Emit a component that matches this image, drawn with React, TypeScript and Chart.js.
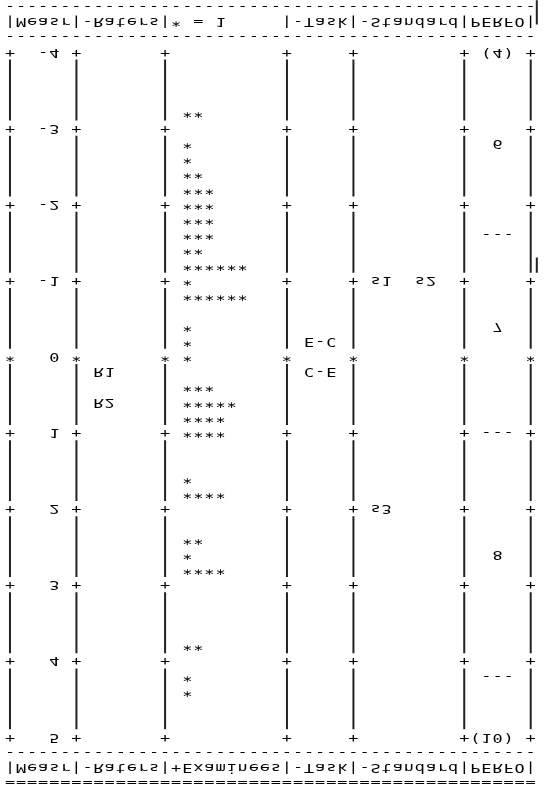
import React, { useEffect, useRef } from 'react';
import { Chart, registerables } from 'chart.js';

Chart.register(...registerables);

// ---- data (measure units, logits) ----
const measureTicks = [-4, -3, -2, -1, 0, 1, 2, 3, 4, 5];
const columnRules = [0, 6, 14, 25, 31, 41, 47]; // character columns of the "|" rules
const headerText = '|Measr|-Raters|+Examinees|-Task|-Standard|PERFO|';
const footerText = '|Measr|-Raters|* = 1     |-Task|-Standard|PERFO|';

const raterNames = ['R1', 'R2'];
const raterMeasures = [0.2, 0.6];

const examineeMeasures = [-3.2, -2.8, -2.6, -2.4, -2.2, -2.0, -1.8, -1.6, -1.4, -1.2, -1.0, -0.8, -0.4, -0.2, 0, 0.4, 0.6, 0.8, 1.0, 1.6, 1.8, 2.4, 2.6, 2.8, 3.8, 4.2, 4.4];
const examineeCounts = [2, 1, 1, 2, 3, 3, 3, 3, 2, 6, 1, 6, 1, 1, 1, 3, 5, 4, 4, 1, 4, 2, 1, 4, 2, 1, 1];

const taskNames = ['E-C', 'C-E'];
const taskMeasures = [-0.2, 0.2];

const standardLabels = ['s1  s2', 's3'];
const standardMeasures = [-1.0, 2.0];

const perfoLabels = ['(4)', '6', '---', '7', '---', '8', '---', '(10)'];
const perfoMeasures = [-4, -2.8, -1.6, -0.4, 1.0, 2.6, 4.2, 5];

const strayMarks = [
  { col: 47.55, from: -4.68, to: -4.36 },
  { col: 47.55, from: -1.3, to: -1.1 },
];

// layout in character cells / measure units
const COL_MIN = -0.9;
const COL_MAX = 48.38;
const Y_MIN = -4.683;
const Y_MAX = 5.684;
const LINE = 0.2; // one text line in measure units
const STRETCH = 1.3;

function buildRuleData(col: number) {
  const pts: any[] = [];
  for (let i = 0; i < measureTicks.length - 1; i++) {
    pts.push({ x: col, y: measureTicks[i] + 0.1 });
    pts.push({ x: col, y: measureTicks[i + 1] - 0.1 });
    pts.push({ x: col, y: null });
  }
  return pts;
}

const textPlugin = {
  id: 'wrightText',
  afterDatasetsDraw(chart: any) {
    const { ctx, scales } = chart;
    const xs = scales.x;
    const ys = scales.y;
    const cw = xs.getPixelForValue(1) - xs.getPixelForValue(0);
    ctx.save();
    ctx.font = '13px "DejaVu Sans Mono", monospace';
    ctx.fillStyle = '#000';
    ctx.textBaseline = 'middle';
    ctx.textAlign = 'left';
    const adv = ctx.measureText('M').width;
    (ctx as any).letterSpacing = `${cw / STRETCH - adv}px`;
    const put = (s: string, col: number, val: number) => {
      const x = xs.getPixelForValue(col) - (adv * STRETCH) / 2;
      const y = ys.getPixelForValue(val);
      ctx.save();
      ctx.translate(x, y);
      ctx.scale(STRETCH, -1);
      ctx.fillText(s, 0, 0);
      ctx.restore();
    };
    const ncols = headerText.length;
    const top = measureTicks[0];
    const bottom = measureTicks[measureTicks.length - 1];
    // header / footer (the picture is upside down)
    put('-'.repeat(ncols), 0, top - 3 * LINE);
    put(footerText, 0, top - 2 * LINE);
    put('-'.repeat(ncols), 0, top - LINE);
    put('-'.repeat(ncols), 0, bottom + LINE);
    put(headerText, 0, bottom + 2 * LINE);
    put('='.repeat(ncols), 0, bottom + 3 * LINE);

    // rule markers and measure labels
    measureTicks.forEach((v) => {
      columnRules.forEach((c) => put(v === 0 ? '*' : '+', c, v));
      const s = String(v);
      put(s, 5 - s.length, v);
    });
    raterNames.forEach((n, i) => put(n, 8, raterMeasures[i]));
    examineeMeasures.forEach((v, i) => put('*'.repeat(examineeCounts[i]), 16, v));
    taskNames.forEach((n, i) => put(n, 27, taskMeasures[i]));
    standardLabels.forEach((n, i) => put(n, 33, standardMeasures[i]));
    perfoLabels.forEach((n, i) => put(n, 44 - Math.floor(n.length / 2), perfoMeasures[i]));
    ctx.restore();
  },
};

export default function App() {
  const ref = useRef<HTMLCanvasElement | null>(null);
  useEffect(() => {
    if (!ref.current) return;
    const datasets: any[] = columnRules.map((c) => ({
      data: buildRuleData(c),
      showLine: true,
      spanGaps: false,
      pointRadius: 0,
      borderColor: '#222',
      borderWidth: 2,
    }));
    strayMarks.forEach((m) =>
      datasets.push({
        data: [{ x: m.col, y: m.from }, { x: m.col, y: m.to }],
        showLine: true,
        pointRadius: 0,
        borderColor: '#222',
        borderWidth: 2,
      })
    );
    const chart = new Chart(ref.current, {
      type: 'scatter',
      data: { datasets },
      options: {
        animation: false,
        responsive: false,
        maintainAspectRatio: false,
        layout: { padding: 0 },
        plugins: { legend: { display: false }, tooltip: { enabled: false } },
        scales: {
          x: { type: 'linear', min: COL_MIN, max: COL_MAX, display: false },
          y: { type: 'linear', min: Y_MIN, max: Y_MAX, reverse: true, display: false },
        },
      },
      plugins: [textPlugin],
    });
    return () => chart.destroy();
  }, []);
  return (
    <div style={{ position: 'absolute', left: 0, top: 0, width: 546, height: 789, background: '#fff' }}>
      <canvas ref={ref} width={546} height={789} style={{ width: 546, height: 789, display: 'block' }} />
    </div>
  );
}
